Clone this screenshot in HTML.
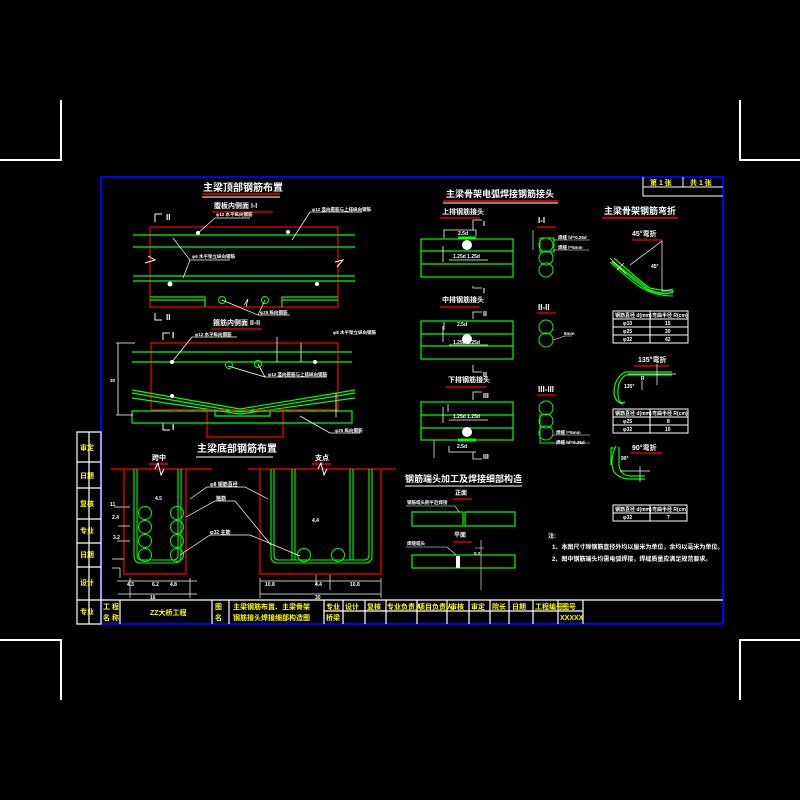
<!DOCTYPE html>
<html><head><meta charset="utf-8"><style>
html,body{margin:0;padding:0;background:#000;width:800px;height:800px;overflow:hidden}
svg{display:block}
text{font-family:"Liberation Sans","Noto Sans CJK SC",sans-serif;font-weight:bold}
</style></head><body>
<svg width="800" height="800" viewBox="0 0 800 800" xmlns="http://www.w3.org/2000/svg">
<rect width="800" height="800" fill="#000"/>
<!-- corner marks -->
<g stroke="#fff" stroke-width="2" fill="none">
<path d="M61 100V160H0"/><path d="M740 100V160H800"/>
<path d="M61 700V640H0"/><path d="M740 700V640H800"/>
</g>
<!-- frame -->
<rect x="101" y="177" width="622" height="447" fill="none" stroke="#00f" stroke-width="2"/>
<!-- top-right sheet box -->
<g stroke="#fff" stroke-width="1" fill="none">
<path d="M643 177V196H723M643 187H723M683 177V187"/>
</g>
<g fill="#ff0" font-size="7"><text x="650" y="185">第 1 张</text><text x="690" y="185">共 1 张</text></g>
<!-- title block -->
<g stroke="#fff" stroke-width="1.2" fill="none">
<path d="M77 600H723"/>
<path d="M77 432H101V624H77ZM89 432V624"/>
<path d="M77 462H101M77 488H101M77 519H101M77 543H101M77 567H101"/>
<path d="M120 600V624M212 600V624M229 600V624M324 600V624M343 600V624M365 600V624M386 600V624M417 600V624M447 600V624M469 600V624M490 600V624M509 600V624M533 600V624M558 600V624M583 600V624"/>
<path d="M324 611H583"/>
</g>
<g fill="#ff0" font-size="7">
<text x="103" y="609">工 程</text><text x="103" y="620">名 称</text>
<text x="150" y="615">ZZ大桥工程</text>
<text x="215" y="609">图</text><text x="215" y="620">名</text>
<text x="233" y="609">主梁钢筋布置、主梁骨架</text><text x="233" y="620">钢筋接头焊接细部构造图</text>
<text x="326" y="609">专业</text><text x="326" y="620">桥梁</text>
<text x="345" y="609">设计</text><text x="367" y="609">复核</text>
<text x="387" y="609">专业负责人</text><text x="418" y="609">项目负责人</text>
<text x="450" y="609">审核</text><text x="471" y="609">审定</text><text x="492" y="609">院长</text>
<text x="512" y="609">日期</text><text x="535" y="609">工程编号</text><text x="562" y="609">图号</text>
<text x="560" y="620">XXXXX</text>
</g>
<g fill="#ff0" font-size="7">
<text x="80" y="450">审定</text><text x="80" y="478">日期</text><text x="80" y="506">复核</text>
<text x="80" y="533">专业</text><text x="80" y="557">日期</text><text x="80" y="585">设计</text><text x="80" y="614">专业</text>
</g>

<!-- ===== top-left block ===== -->
<g fill="#fff" font-size="10"><text x="203" y="191">主梁顶部钢筋布置</text></g>
<path d="M202 194H280" stroke="#f00" stroke-width="1.5"/><path d="M202 197H280" stroke="#fff"/>
<g fill="#fff" font-size="7"><text x="214" y="208">腹板内侧面 I-I</text></g>
<path d="M212 212H273" stroke="#f00" stroke-width="1.2"/>
<g stroke="#fff" fill="none"><path d="M155 222V214H162"/><path d="M155 313V320H162"/></g>
<g fill="#fff" font-size="8"><text x="166" y="220">II</text><text x="166" y="320">II</text></g>
<rect x="150" y="227" width="188" height="80" fill="none" stroke="#f00" stroke-width="1.2"/>
<path d="M145 263L155 260L148 256M335 262L343 260L337 267" stroke="#fff" fill="none"/>
<g stroke="#0f0" stroke-width="1.2" fill="none">
<path d="M133 235H355M133 247H355M133 276H355M133 281H355"/>
<path d="M150 297H205V307M150 300H205M282 307V297H338M282 300H338"/>
</g>
<g fill="#fff"><circle cx="198" cy="233" r="2"/><circle cx="288" cy="232" r="2"/><circle cx="170" cy="284" r="2.5"/><circle cx="317" cy="284" r="2"/></g>
<g fill="none" stroke="#0f0"><circle cx="222" cy="300" r="3.5"/><circle cx="265" cy="300" r="3.5"/></g>
<g stroke="#fff" stroke-width="0.7" fill="none">
<path d="M198 233L215 218H250M292 240L310 212H362M173 238L190 260H230M183 278L190 260M222 300L258 315H290M265 300L258 315M244 305L248 299L246 307"/>
</g>
<g fill="#fff" font-size="4.5"><text x="216" y="216">φ12 水平纵向钢筋</text><text x="312" y="211">φ12 竖向箍筋与上排纵向钢筋</text><text x="192" y="258">φ6 水平架立纵向钢筋</text><text x="260" y="314">φ25 纵向钢筋</text></g>

<!-- second block -->
<g fill="#fff" font-size="7"><text x="213" y="325">箍筋内侧面 II-II</text></g>
<path d="M212 329H262" stroke="#f00" stroke-width="1.2"/>
<g stroke="#fff" fill="none"><path d="M163 340V333H170"/><path d="M163 423V430H170"/></g>
<g fill="#fff" font-size="8"><text x="172" y="338">I</text><text x="172" y="430">I</text></g>
<path d="M151 409V343H338V410M151 410H207V437H283V410H338" fill="none" stroke="#f00" stroke-width="1.2"/>
<g stroke="#0f0" stroke-width="1.2" fill="none">
<path d="M132 352H352M132 362H352"/>
<path d="M132 393L240 412L355 393M132 398L240 414L355 398M132 390L240 409L355 390"/>
<path d="M132 411H352V423H132Z"/>
<path d="M215 411V416H270V411"/>
</g>
<path d="M170 410H330" stroke="#f00" stroke-width="1.5" stroke-dasharray="8 4"/>
<g stroke="#fff" fill="none" stroke-width="0.8">
<path d="M118 343V415M116 343H135M116 415H133"/>
<path d="M277 337V362M301 343V362"/>
<path d="M172 362L192 337H237M228 366L265 377H327M258 364L265 377M300 416L330 433H360M336 393V417"/>
</g>
<g fill="#fff"><circle cx="172" cy="362" r="2"/><circle cx="315" cy="362" r="2"/><circle cx="172" cy="396" r="2"/></g>
<g fill="none" stroke="#0f0"><circle cx="229" cy="365" r="3.5"/><circle cx="258" cy="364" r="3.5"/></g>
<g fill="#fff" font-size="4.5"><text x="195" y="336">φ12 水平纵向钢筋</text><text x="333" y="334">φ8 水平架立纵向钢筋</text><text x="268" y="376">φ12 竖向箍筋与上排纵向钢筋</text><text x="335" y="432">φ25 纵向钢筋</text><text x="110" y="382">30</text></g>

<!-- ===== bottom-left channel ===== -->
<g fill="#fff" font-size="10"><text x="197" y="452">主梁底部钢筋布置</text></g>
<path d="M196 457H273" stroke="#fff"/>
<g fill="#fff" font-size="7"><text x="152" y="460">跨中</text><text x="315" y="460">支点</text></g>
<path d="M149 464H168M312 464H331" stroke="#f00" stroke-width="1.5"/>
<g stroke="#f00" stroke-width="1.2" fill="none">
<path d="M111 469H212M124 469V574H186V469"/>
<path d="M248 469H396M260 469V574H381V469"/>
</g>
<path d="M155 469L158 463L161 475L164 469M318 469L321 463L324 475L327 469" stroke="#fff" fill="none"/>
<g stroke="#0f0" stroke-width="1.1" fill="none">
<path d="M134 469V556Q134 563 141 563H174Q181 563 181 556V469M137 469V555Q137 560 142 560H173Q178 560 178 555V469"/>
<path d="M271 469V556Q271 563 278 563H365Q372 563 372 556V469M274 469V555Q274 560 279 560H364Q369 560 369 555V469"/>
<path d="M292 469V560M295 469V560M350 469V560M353 469V560"/>
</g>
<g fill="none" stroke="#0f0" stroke-width="1">
<circle cx="145" cy="513" r="6.5"/><circle cx="145" cy="527" r="6.5"/><circle cx="145" cy="541" r="6.5"/><circle cx="145" cy="555" r="6.5"/>
<circle cx="177" cy="513" r="6.5"/><circle cx="177" cy="527" r="6.5"/><circle cx="177" cy="541" r="6.5"/><circle cx="177" cy="555" r="6.5"/>
<circle cx="304" cy="555" r="6.5"/><circle cx="338" cy="555" r="6.5"/>
</g>
<g stroke="#fff" stroke-width="0.7" fill="none">
<path d="M190 499L207 487H245L268 499M186 517L215 501H235L271 545M180 555L210 535H250L300 556"/>
<path d="M117 581H197M130 578V598M190 578V598M118 594H197M260 581H381M260 594H381M260 578V598M381 578V598"/>
<path d="M114 507H130M118 526H130M117 541H130M112 568H120V578M124 559H112"/>
<path d="M316 585V575M330 575V590M434 440V458"/>
</g>
<g fill="#fff" font-size="5"><text x="210" y="486">φ8 钢筋直径</text><text x="216" y="500">箍筋</text><text x="210" y="534">φ32 主筋</text>
<text x="110" y="506">11</text><text x="112" y="519">2.4</text><text x="113" y="539">3.2</text>
<text x="127" y="586">4.3</text><text x="152" y="586">6.2</text><text x="170" y="586">4.8</text><text x="150" y="599">16</text>
<text x="265" y="586">10.8</text><text x="315" y="586">4.4</text><text x="350" y="586">10.8</text><text x="315" y="599">30</text>
<text x="155" y="500">4.5</text><text x="312" y="522">4.4</text></g>

<!-- ===== middle block: welded joints ===== -->
<g fill="#fff" font-size="9"><text x="446" y="197">主梁骨架电弧焊接钢筋接头</text></g>
<path d="M443 201H558" stroke="#f00" stroke-width="1.5"/><path d="M443 203H558" stroke="#fff"/>
<g fill="#fff" font-size="7"><text x="442" y="214">上排钢筋接头</text><text x="442" y="302">中排钢筋接头</text><text x="448" y="382">下排钢筋接头</text></g>
<path d="M440 218H480M440 307H480M446 387H486" stroke="#f00" stroke-width="1.2"/>
<g stroke="#0f0" stroke-width="1.2" fill="none">
<rect x="421" y="239" width="92" height="38"/><path d="M421 251H513M421 264H513"/>
<rect x="421" y="321" width="92" height="38"/><path d="M421 334H513M421 346H513"/>
<rect x="421" y="402" width="92" height="38"/><path d="M421 415H513M421 428H513"/>
</g>
<path d="M458 238H476M458 440H476" stroke="#0f0" stroke-width="3"/>
<g fill="#fff">
<ellipse cx="467" cy="245" rx="5" ry="5"/><ellipse cx="467" cy="339" rx="5" ry="5"/><ellipse cx="467" cy="432" rx="5" ry="5"/>
</g>
<g stroke="#fff" stroke-width="0.8" fill="none">
<path d="M444 238V230H476M476 230V236M444 330V322M448 412V404M449 446V452H476"/>
<path d="M473 230V220H482M473 286V288H482M473 319V312H482M473 365V372H482M473 400V392H482M473 452V459H482"/>
<path d="M449 260H488M449 345H488M449 420H488M443 262V246M443 342V326M443 423V407"/>
</g>
<g fill="#fff" font-size="7"><text x="483" y="226">I</text><text x="483" y="293">I</text><text x="483" y="316">II</text><text x="483" y="377">II</text><text x="483" y="398">III</text><text x="483" y="459">III</text></g>
<g fill="#fff" font-size="5"><text x="458" y="235">2.5d</text><text x="453" y="258">1.25d 1.25d</text><text x="457" y="326">2.5d</text><text x="453" y="344">1.25d 1.25d</text><text x="453" y="418">1.25d 1.25d</text><text x="457" y="448">2.5d</text></g>
<!-- sections -->
<g fill="#fff" font-size="8"><text x="538" y="223">I-I</text><text x="538" y="310">II-II</text><text x="538" y="392">III-III</text></g>
<path d="M537 227H556M537 313H556M537 395H556" stroke="#f00" stroke-width="1.2"/>
<g fill="none" stroke="#0f0" stroke-width="1">
<circle cx="546" cy="245" r="7"/><circle cx="546" cy="258" r="7"/><circle cx="546" cy="270" r="7"/>
<circle cx="546" cy="327" r="7"/><circle cx="546" cy="340" r="7"/>
<circle cx="546" cy="408" r="7"/><circle cx="546" cy="421" r="7"/><circle cx="546" cy="433" r="7"/>
<path d="M540 238H554V252H540ZM540 414V443H554"/>
</g>
<g stroke="#fff" stroke-width="0.6" fill="none"><path d="M553 240H590M553 250H589M553 340L565 336H572M553 435H590M553 443H590M533 230V250"/></g>
<g fill="#fff" font-size="4.5"><text x="558" y="239">焊缝 hf=0.25d</text><text x="558" y="249">焊缝 l=5mm</text><text x="564" y="335">5mm</text><text x="556" y="434">焊缝 l=5mm</text><text x="556" y="444">焊缝 hf=0.25d</text></g>

<!-- ===== right column: bends ===== -->
<g fill="#fff" font-size="9"><text x="604" y="214">主梁骨架钢筋弯折</text></g>
<path d="M602 218H678" stroke="#f00" stroke-width="1.5"/>
<g fill="#fff" font-size="7"><text x="632" y="236">45°弯折</text><text x="638" y="362">135°弯折</text><text x="632" y="450">90°弯折</text></g>
<path d="M632 240H662M634 366H669M631 453H662" stroke="#f00" stroke-width="1.2"/>
<g stroke="#0f0" stroke-width="1.2" fill="none">
<path d="M612 262Q640 285 648 290Q665 296 673 292H673"/>
<path d="M614 258Q642 283 650 288Q666 292 673 289"/>
<path d="M616 446Q609 460 614 472Q620 479 630 479H645M611 465V448H614M619 447V465Q620 475 630 476H645"/>
</g>
<path d="M612 261L650 290Q660 294 673 293" stroke="#0f0" stroke-width="1" fill="none"/>
<path d="M610 262Q630 280 640 287Q655 296 673 296" stroke="#0f0" stroke-width="1.1" fill="none"/>
<path d="M672 375H626Q617 380 618 395Q619 405 625 402M672 372H625Q614 378 614 393Q615 402 623 404" stroke="#0f0" stroke-width="1.2" fill="none"/>
<g stroke="#fff" stroke-width="0.7" fill="none">
<path d="M630 265L662 241V291H674M610 258L626 274M617 270L624 263"/>
<path d="M657 364V385M628 374H676M642 380V390"/>
<path d="M620 471H650M640 466V482"/>
</g>
<g fill="#fff" font-size="5"><text x="651" y="268">45°</text><text x="641" y="380">R</text><text x="624" y="388">135°</text><text x="621" y="460">90°</text></g>
<g stroke="#fff" stroke-width="1" fill="none">
<rect x="613" y="311" width="75" height="32"/><path d="M613 319H688M613 327H688M613 335H688M650 311V343"/>
<rect x="613" y="409" width="75" height="24"/><path d="M613 417H688M613 425H688M650 409V433"/>
<rect x="613" y="505" width="74" height="16"/><path d="M613 513H687M650 505V521"/>
</g>
<g fill="#fff" font-size="5">
<text x="615" y="317">钢筋直径 d(mm)</text><text x="652" y="317">弯曲半径 R(cm)</text>
<text x="623" y="325">φ10</text><text x="665" y="325">15</text><text x="623" y="333">φ25</text><text x="665" y="333">30</text><text x="623" y="341">φ32</text><text x="665" y="341">42</text>
<text x="615" y="415">钢筋直径 d(mm)</text><text x="652" y="415">弯曲半径 R(cm)</text>
<text x="623" y="423">φ25</text><text x="667" y="423">8</text><text x="623" y="431">φ32</text><text x="665" y="431">10</text>
<text x="615" y="511">钢筋直径 d(mm)</text><text x="652" y="511">弯曲半径 R(cm)</text>
<text x="623" y="519">φ32</text><text x="667" y="519">7</text>
</g>

<!-- ===== weld end detail ===== -->
<g fill="#fff" font-size="9"><text x="405" y="482">钢筋端头加工及焊接细部构造</text></g>
<path d="M405 486H522" stroke="#fff"/>
<g fill="#fff" font-size="6"><text x="455" y="495">正面</text><text x="454" y="537">平面</text></g>
<path d="M453 499H472M453 542H472" stroke="#f00" stroke-width="1.2"/>
<g stroke="#0f0" stroke-width="1.2" fill="none">
<path d="M412 512H463V526H412ZM465 512H515V526H465Z"/>
<rect x="412" y="555" width="103" height="13"/>
</g>
<path d="M458 556V568" stroke="#fff" stroke-width="4"/>
<g stroke="#fff" stroke-width="0.6" fill="none"><path d="M406 506H455L459 512M406 547H447L456 555M481 540V590M475 548H484"/></g>
<g fill="#fff" font-size="4.5"><text x="407" y="504">钢筋端头削平后焊接</text><text x="407" y="545">焊缝端头</text><text x="474" y="555">0.2</text></g>

<!-- notes -->
<g fill="#fff" font-size="6"><text x="548" y="538">注:</text>
<text x="552" y="549">1、本图尺寸除钢筋直径外均以厘米为单位，余均以毫米为单位。</text>
<text x="552" y="561">2、图中钢筋端头均需电弧焊接，焊缝质量应满足规范要求。</text></g>
</svg>
</body></html>
